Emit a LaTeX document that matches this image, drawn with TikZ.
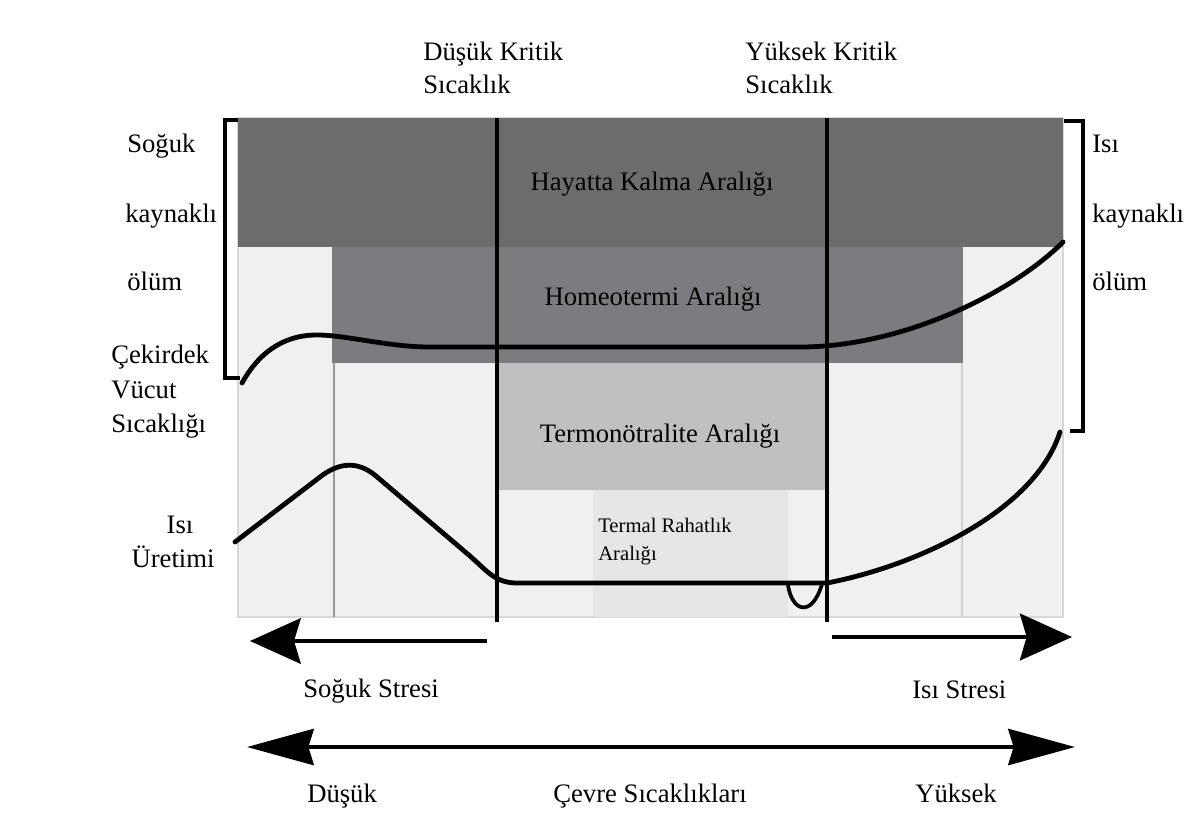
\documentclass[tikz,border=0pt]{standalone}
\usepackage{fontspec}
\setmainfont{Liberation Serif}
\usetikzlibrary{arrows.meta}
\definecolor{panelbg}{RGB}{240,240,240}
\definecolor{panelline}{RGB}{215,215,215}
\definecolor{survival}{RGB}{108,108,108}
\definecolor{homeo}{RGB}{124,124,128}
\definecolor{thermo}{RGB}{192,192,192}
\definecolor{comfort}{RGB}{230,230,230}
\begin{document}
\begin{tikzpicture}[x=0.75pt,y=-0.75pt,
  lbl/.style={anchor=base west,inner sep=0pt,font=\fontsize{20}{24}\selectfont},
  clbl/.style={anchor=base,inner sep=0pt,font=\fontsize{20}{24}\selectfont},
  smalllbl/.style={anchor=base west,inner sep=0pt,font=\fontsize{15.5}{19}\selectfont},
  curve/.style={line width=3.6pt,line cap=round,line join=round},
  critline/.style={line width=3pt},
  bracketline/.style={line width=3pt,line join=miter},
  thinline/.style={line width=1pt},
  bigarrow/.style={line width=3.4pt}
]
\useasboundingbox (0,0) rectangle (1189,819);
\fill[white] (0,0) rectangle (1189,819);

% panel and bands
\fill[panelbg] (238,118) rectangle (1063,617);
\draw[panelline,line width=0.8pt] (238,118) rectangle (1063,617);
\fill[survival] (238,118) rectangle (1063,247);
\fill[homeo] (332,247) rectangle (963,363);
\fill[thermo] (497,363) rectangle (827,490);
\fill[comfort] (593,490) rectangle (788,617);
\draw[thinline,color=black!40] (334,363) -- (334,617);
\draw[thinline,color=black!18] (962,363) -- (962,617);

% critical temperature lines
\coordinate (lct-top) at (497,118);
\coordinate (lct-bot) at (497,622);
\coordinate (uct-top) at (827,118);
\coordinate (uct-bot) at (827,622);
\draw[critline] (lct-top) -- (lct-bot);
\draw[critline] (uct-top) -- (uct-bot);

% core body temperature curve
\draw[curve] (242,383) .. controls (262,347) and (290,334) .. (320,335)
  .. controls (350,336) and (390,347) .. (430,347)
  -- (800,347)
  .. controls (900,347) and (1010,295) .. (1063,242);

% heat production curve
\draw[curve] (235,542) -- (320,477)
  .. controls (338,463) and (357,460) .. (376,476)
  -- (470,556)
  .. controls (488,572) and (495,582) .. (515,583)
  -- (827,583)
  .. controls (920,565) and (1035,510) .. (1060,432);
\draw[line width=2.8pt,line cap=round] (788,585) .. controls (792,612) and (812,618) .. (822,584);

% brackets
\draw[bracketline] (238,120) -- (225,120) -- (225,378) -- (240,378);
\draw[bracketline] (1064,121) -- (1083,121) -- (1083,431) -- (1070,431);

% stress arrows
\coordinate (cold-start) at (487,641);
\coordinate (cold-end) at (250,641);
\coordinate (heat-start) at (832,637);
\coordinate (heat-end) at (1072,637);
\draw[bigarrow,-{Stealth[length=38pt,width=34pt,inset=5pt]}] (cold-start) -- (cold-end);
\draw[bigarrow,-{Stealth[length=39pt,width=35pt,inset=5pt]}] (heat-start) -- (heat-end);

% ambient temperature arrow
\coordinate (amb-left) at (247,747);
\coordinate (amb-right) at (1075,747);
\draw[bigarrow,{Stealth[length=50pt,width=27pt,inset=4pt]}-{Stealth[length=50pt,width=27pt,inset=4pt]}] (amb-left) -- (amb-right);

% top labels
\node[lbl] (lct1) at (423,60) {Düşük Kritik};
\node[lbl] (lct2) at (423,93) {Sıcaklık};
\node[lbl] (uct1) at (745,60) {Yüksek Kritik};
\node[lbl] (uct2) at (745,93) {Sıcaklık};

% left labels
\node[lbl] (cd1) at (127,152) {Soğuk};
\node[lbl] (cd2) at (125,222) {kaynaklı};
\node[lbl] (cd3) at (127,290) {ölüm};
\node[lbl] (cbt1) at (111,363) {Çekirdek};
\node[lbl] (cbt2) at (111,398) {Vücut};
\node[lbl] (cbt3) at (111,432) {Sıcaklığı};

% right labels
\node[lbl] (hd1) at (1092,152) {Isı};
\node[lbl] (hd2) at (1092,222) {kaynaklı};
\node[lbl] (hd3) at (1092,290) {ölüm};

% heat production label
\node[clbl] (hp1) at (180,533) {Isı};
\node[clbl] (hp2) at (173,567) {Üretimi};

% zone labels
\node[clbl] (survl) at (652,190) {Hayatta Kalma Aralığı};
\node[clbl] (homeol) at (653,305) {Homeotermi Aralığı};
\node[clbl] (thermol) at (660,442) {Termonötralite Aralığı};
\node[smalllbl] (comf1) at (598,532) {Termal Rahatlık};
\node[smalllbl] (comf2) at (598,560) {Aralığı};

% stress labels
\node[lbl] (coldl) at (303,697) {Soğuk Stresi};
\node[lbl] (heatl) at (912,698) {Isı Stresi};

% ambient labels
\node[lbl] (lowl) at (307,802) {Düşük};
\node[clbl] (ambl) at (650,802) {Çevre Sıcaklıkları};
\node[lbl] (highl) at (915,802) {Yüksek};
\end{tikzpicture}
\end{document}
